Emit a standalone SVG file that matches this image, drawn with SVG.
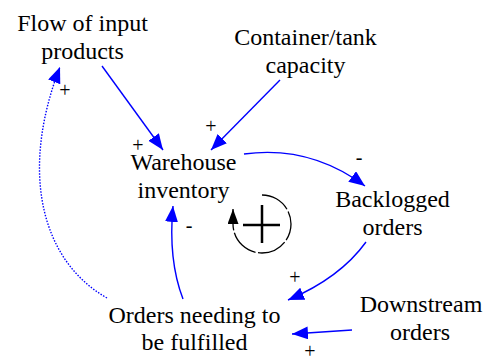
<svg xmlns="http://www.w3.org/2000/svg" width="487" height="358" viewBox="0 0 487 358">
<style>
text{fill:#000;text-anchor:middle}
.n{font-size:24px}
.p{font-size:20px}
.c{fill:none;stroke:#0000ff;stroke-width:1.4}
</style>
<defs>
<marker id="ab" markerUnits="userSpaceOnUse" markerWidth="18" markerHeight="14" refX="16" refY="6.5" orient="auto"><path d="M0,0 L16,6.5 L0,13 z" fill="#0000ff"/></marker>
<marker id="ak" markerUnits="userSpaceOnUse" markerWidth="18" markerHeight="14" refX="15" refY="5.5" orient="auto"><path d="M0,0 L15,5.5 L0,11 z" fill="#000"/></marker>
</defs>
<g id="connectors">
<path class="c" d="M102,66 L163,150" marker-end="url(#ab)"/>
<path class="c" d="M280,80 L211,150" marker-end="url(#ab)"/>
<path class="c" d="M244,154 Q310,145 365,186" marker-end="url(#ab)"/>
<path class="c" d="M366,242 Q340,278 288,300" marker-end="url(#ab)"/>
<path class="c" d="M352,330 L292,334" marker-end="url(#ab)"/>
<path class="c" d="M183,299 Q168,260 173,206" marker-end="url(#ab)"/>
<path class="c" d="M107,298 C40,260 20,170 60,67" stroke-dasharray="1.5,1.5" stroke-width="1.2" marker-end="url(#ab)"/>
</g>
<g font-family="Liberation Serif, Times New Roman, serif">
<g id="flow-of-input-products"><text class="n" x="82.5" y="31">Flow of input</text><text class="n" x="82.5" y="59">products</text></g>
<g id="container-tank-capacity"><text class="n" x="305.5" y="45">Container/tank</text><text class="n" x="305.5" y="73">capacity</text></g>
<g id="warehouse-inventory"><text class="n" x="183.5" y="170">Warehouse</text><text class="n" x="183.5" y="198">inventory</text></g>
<g id="backlogged-orders"><text class="n" x="392.5" y="207">Backlogged</text><text class="n" x="392.5" y="235">orders</text></g>
<g id="orders-needing"><text class="n" x="194.5" y="323">Orders needing to</text><text class="n" x="194.5" y="350">be fulfilled</text></g>
<g id="downstream-orders"><text class="n" x="421" y="312">Downstream</text><text class="n" x="420" y="340">orders</text></g>
<g id="polarities">
<text class="p" x="65" y="97">+</text>
<text class="p" x="138" y="152">+</text>
<text class="p" x="211" y="133">+</text>
<text class="p" x="359" y="164">-</text>
<text class="p" x="189" y="232">-</text>
<text class="p" x="295" y="284">+</text>
<text class="p" x="310" y="358">+</text>
</g>
</g>
<g id="loop">
<path d="M262,195 A29,29 0 1 1 233,224 L233,209" fill="none" stroke="#000" stroke-width="1.3" stroke-dasharray="30,2.5" marker-end="url(#ak)"/>
<path d="M243,225 H280 M262,205 V243" stroke="#000" stroke-width="2.5"/>
</g>
</svg>
